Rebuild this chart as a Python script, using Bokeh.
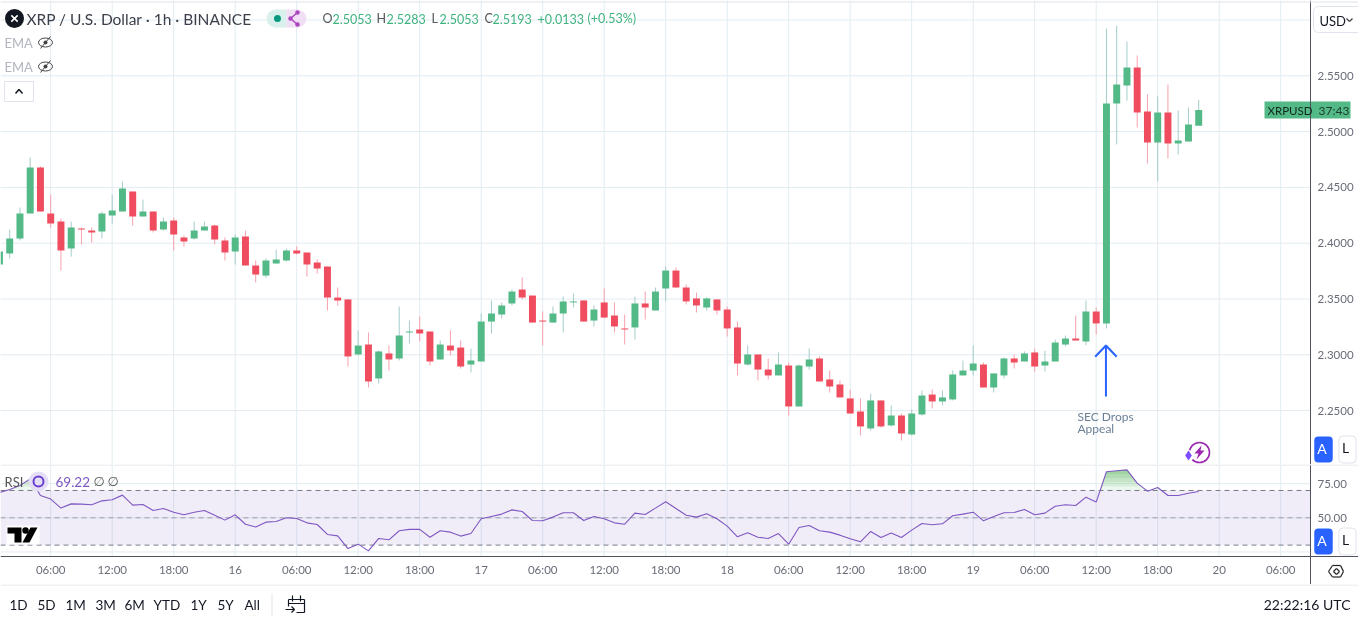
from bokeh.plotting import figure
from bokeh.layouts import column
from bokeh.models import (Range1d, LinearAxis, FixedTicker, Label, Arrow,
                          ColumnDataSource, NumeralTickFormatter)
from bokeh.embed import file_html
from bokeh.resources import INLINE
import numpy as np

hours = list(range(-5, 113))
opens = [2.3809,2.3907,2.4042,2.4266,2.4678,
 2.4266,2.4194,2.3952,2.4131,2.4113,2.4105,2.4248,2.4284,2.4463,2.4239,
 2.4284,2.4122,2.4203,2.4051,2.4042,2.4113,2.4158,2.4024,2.3925,2.4060,
 2.3800,2.3710,2.3818,2.3845,2.3934,2.3916,2.3827,2.3791,2.3513,2.3496,
 2.3003,2.3092,2.2788,2.3012,2.2967,2.3200,2.3227,2.3209,2.2958,2.3083,
 2.3065,2.2913,2.2940,2.3298,2.3361,2.3460,2.3585,2.3531,2.3307,2.3289,
 2.3370,2.3469,2.3487,2.3307,2.3469,2.3352,2.3236,2.3245,2.3460,2.3397,
 2.3594,2.3755,2.3603,2.3505,2.3424,2.3496,2.3406,2.3245,2.2913,2.3003,
 2.2868,2.2815,2.2904,2.2537,2.2895,2.2967,2.2779,2.2734,2.2609,2.2492,
 2.2340,2.2591,2.2367,2.2456,2.2286,2.2465,2.2644,2.2582,2.2600,2.2815,
 2.2859,2.2913,2.2707,2.2815,2.2967,2.2940,2.3021,2.2904,2.2940,2.3092,
 2.3146,2.3119,2.3388,2.3281,2.5252,2.5413,2.5575,2.5180,2.4903,2.5171,
 2.4894,2.4911,2.5053]
highs = [2.3925,2.4122,2.4320,2.4768,2.4687,
 2.4436,2.4221,2.4194,2.4140,2.4140,2.4284,2.4436,2.4553,2.4463,2.4391,
 2.4284,2.4230,2.4230,2.4069,2.4194,2.4194,2.4167,2.4051,2.4078,2.4113,
 2.3845,2.3863,2.3943,2.3952,2.3970,2.3916,2.3854,2.3791,2.3603,2.3496,
 2.3218,2.3200,2.3039,2.3083,2.3433,2.3307,2.3343,2.3209,2.3128,2.3218,
 2.3128,2.3056,2.3370,2.3487,2.3469,2.3585,2.3693,2.3531,2.3388,2.3433,
 2.3522,2.3549,2.3487,2.3442,2.3594,2.3469,2.3361,2.3522,2.3567,2.3603,
 2.3791,2.3782,2.3630,2.3558,2.3514,2.3496,2.3433,2.3299,2.3084,2.3003,
 2.2967,2.3021,2.2931,2.2913,2.3057,2.2985,2.2859,2.2770,2.2689,2.2609,
 2.2653,2.2591,2.2546,2.2474,2.2510,2.2680,2.2689,2.2680,2.2859,2.2949,
 2.3084,2.2931,2.2833,2.2976,2.3003,2.3030,2.3056,2.3038,2.3137,2.3173,
 2.3352,2.3487,2.3424,2.5924,2.5951,2.5808,2.5682,2.5333,2.5315,2.5422,
 2.5189,2.5216,2.5283]
lows = [2.3780,2.3863,2.4024,2.4266,2.4284,
 2.4140,2.3755,2.3880,2.3988,2.4006,2.4042,2.4176,2.4284,2.4158,2.4239,
 2.4096,2.4113,2.3934,2.3970,2.4033,2.4113,2.3988,2.3845,2.3809,2.3800,
 2.3648,2.3692,2.3818,2.3836,2.3898,2.3701,2.3728,2.3397,2.3441,2.2895,
 2.2994,2.2707,2.2743,2.2859,2.2949,2.3101,2.3119,2.2904,2.2958,2.2994,
 2.2877,2.2841,2.2940,2.3191,2.3325,2.3442,2.3496,2.3289,2.3083,2.3289,
 2.3200,2.3424,2.3298,2.3254,2.3325,2.3200,2.3092,2.3137,2.3316,2.3397,
 2.3478,2.3603,2.3451,2.3379,2.3397,2.3361,2.3164,2.2815,2.2904,2.2770,
 2.2779,2.2815,2.2456,2.2537,2.2868,2.2761,2.2662,2.2618,2.2474,2.2277,
 2.2322,2.2349,2.2358,2.2232,2.2277,2.2456,2.2519,2.2546,2.2591,2.2815,
 2.2815,2.2707,2.2662,2.2788,2.2877,2.2940,2.2850,2.2850,2.2940,2.3075,
 2.3128,2.3084,2.3182,2.3236,2.4885,2.5279,2.5037,2.4714,2.4553,2.4759,
 2.4795,2.4911,2.5053]
closes = [2.3925,2.4042,2.4266,2.4678,2.4284,
 2.4176,2.3934,2.4140,2.4122,2.4096,2.4266,2.4293,2.4490,2.4239,2.4284,
 2.4113,2.4194,2.4078,2.4015,2.4113,2.4149,2.4033,2.3916,2.4051,2.3800,
 2.3719,2.3845,2.3854,2.3934,2.3907,2.3809,2.3773,2.3513,2.3486,2.2985,
 2.3083,2.2761,2.3030,2.2958,2.3173,2.3209,2.3191,2.2940,2.3092,2.3039,
 2.2895,2.2949,2.3298,2.3370,2.3442,2.3567,2.3513,2.3289,2.3298,2.3370,
 2.3478,2.3478,2.3298,2.3406,2.3334,2.3254,2.3227,2.3460,2.3424,2.3567,
 2.3755,2.3603,2.3478,2.3442,2.3505,2.3397,2.3236,2.2922,2.3003,2.2868,
 2.2815,2.2913,2.2537,2.2904,2.2958,2.2761,2.2716,2.2618,2.2474,2.2358,
 2.2591,2.2358,2.2456,2.2295,2.2474,2.2635,2.2582,2.2618,2.2824,2.2859,
 2.2922,2.2707,2.2833,2.2967,2.2931,2.3012,2.2895,2.2940,2.3110,2.3146,
 2.3128,2.3388,2.3281,2.5252,2.5422,2.5575,2.5171,2.4903,2.5171,2.4894,
 2.4920,2.5064,2.5193]
rsi = [68.5,70.7,73.7,78.5,66.3,
 63.7,57.1,60.2,60.0,59.5,62.4,63.2,66.6,59.3,59.7,55.4,56.8,54.1,52.2,54.1,
 55.4,51.9,48.3,52.2,45.3,43.2,46.8,47.3,50.0,49.5,46.3,45.1,37.8,36.8,27.5,
 30.7,25.8,34.9,33.9,40.5,41.5,41.5,35.8,40.5,39.5,36.6,38.5,49.3,51.0,52.7,
 55.8,54.6,48.0,47.8,50.5,53.7,53.7,48.0,51.0,49.3,46.3,45.3,53.4,52.4,57.1,
 61.7,56.8,51.9,50.5,52.9,49.3,43.9,36.1,39.0,35.8,34.9,38.5,30.7,42.9,44.4,
 40.5,39.5,37.3,34.6,32.4,40.0,35.6,38.8,35.6,41.0,45.8,44.9,45.6,51.5,52.7,
 54.1,47.8,51.0,53.7,53.9,56.1,52.2,53.4,58.5,59.5,59.0,65.1,61.5,83.7,84.4,
 85.1,75.4,69.5,72.2,66.3,66.3,68.0,69.22]
time_ticks = list(range(0, 121, 6))
time_labels = ["06:00","12:00","18:00","16","06:00","12:00","18:00","17","06:00","12:00","18:00",
               "18","06:00","12:00","18:00","19","06:00","12:00","18:00","20","06:00"]
price_ticks = [2.25,2.30,2.35,2.40,2.45,2.50,2.55,2.60]
rsi_ticks = [25,50,75]
ranges_buttons = ["1D","5D","1M","3M","6M","YTD","1Y","5Y","All"]
arrow_x = [[102.95,102.95],[101.9,102.95,104.0]]
arrow_y = [[2.2626,2.3083],[2.2982,2.3083,2.2982]]

GRID="#e1ecf2"; AXIS="#50535e"; SEP="#e0e3eb"; UP="#53b987"; DOWN="#ef4d5f"; UPW="#a3cdca"; DOWNW="#f8a1ad"
TXT="#131722"; TICK="#6a6d78"; PURPLE="#7e57c2"; BLUE="#2962ff"; FONT="Lato"
def px(x): return (x-50.2)/10.25
def py(y): return 2.55-(y-75.3)/1116
def ry(y): return 50+(517.3-y)/1.366
H_MIN,H_MAX,H_AXIS=px(0),px(1358),px(1310)

def lab(fig,text,x,y,size,color,align="left",style="normal",font=FONT,level="overlay",**kw):
    fig.add_layout(Label(x=x,y=y,x_units="canvas",y_units="canvas",text=text,text_font=font,level=level,
        text_font_size=f"{size}px",text_color=color,text_align=align,text_baseline="middle",
        text_font_style=style,**kw))
def rule(fig,pts,color,width=1,level="overlay"):
    for (x0,y0),(x1,y1) in zip(pts[:-1],pts[1:]):
        fig.add_layout(Arrow(end=None,x_start=x0,y_start=y0,x_end=x1,y_end=y1,start_units="canvas",level=level,
            end_units="canvas",line_color=color,line_width=width))
def style_axis(a,standoff=7):
    a.major_tick_line_color=None; a.minor_tick_line_color=None; a.axis_line_color=AXIS
    a.major_tick_out=0; a.major_tick_in=0; a.minor_tick_out=0; a.minor_tick_in=0
    a.major_label_text_color=TICK; a.major_label_text_font=FONT; a.major_label_text_font_size="11.5px"
    a.major_label_standoff=standoff

# ---------------- price pane (frame spans the whole width; the scale sits at a fixed location)
p=figure(width=1358,height=464,output_backend="svg",toolbar_location=None,x_axis_type=None,y_axis_type=None,
         x_range=Range1d(H_MIN,H_MAX),y_range=Range1d(py(464),py(0)),min_border=0,outline_line_color=None,
         background_fill_color="white")
p.segment(x0=time_ticks,y0=[py(0)]*len(time_ticks),x1=time_ticks,y1=[py(464)]*len(time_ticks),line_color=GRID)
p.segment(x0=[H_MIN]*len(price_ticks),y0=price_ticks,x1=[H_AXIS]*len(price_ticks),y1=price_ticks,line_color=GRID)
ax=LinearAxis(ticker=FixedTicker(ticks=price_ticks),formatter=NumeralTickFormatter(format="0.0000"),
              major_label_overrides={2.6:""},fixed_location=H_AXIS)
style_axis(ax)
p.add_layout(ax,"right")

up=[i for i in range(len(hours)) if closes[i]>=opens[i]]
dn=[i for i in range(len(hours)) if closes[i]<opens[i]]
def src(idx):
    return ColumnDataSource(dict(x=[hours[i] for i in idx],h=[highs[i] for i in idx],l=[lows[i] for i in idx],
        t=[max(opens[i],closes[i]) for i in idx],b=[min(opens[i],closes[i]) for i in idx]))
for idx,c,w in ((up,UP,UPW),(dn,DOWN,DOWNW)):
    s=src(idx)
    p.segment("x","h","x","l",source=s,line_color=w,line_width=1)
    p.vbar(x="x",top="t",bottom="b",width=0.68,source=s,fill_color=c,line_color=None)
p.multi_line(arrow_x,arrow_y,line_color=BLUE,line_width=2)

# header
p.scatter([px(14)],[py(18)],size=19,marker="circle",fill_color=TXT,line_color=None)
p.scatter([px(14)],[py(18)],size=9,marker="x",line_color="white",line_width=1.6)
lab(p,"XRP / U.S. Dollar · 1h · BINANCE",26,18,15.5,"#3c3f4a")
p.quad(left=[px(275)],right=[px(286)],top=[py(9)],bottom=[py(27)],fill_color="#d9f0ec",line_color=None)
p.quad(left=[px(286)],right=[px(297)],top=[py(9)],bottom=[py(27)],fill_color="#f1dff6",line_color=None)
p.scatter([px(275)],[py(18)],size=18,fill_color="#d9f0ec",line_color=None)
p.scatter([px(297)],[py(18)],size=18,fill_color="#f1dff6",line_color=None)
p.scatter([px(277)],[py(18)],size=7,fill_color="#089981",line_color=None)
p.multi_line([[px(297),px(290),px(297)]],[[py(12),py(18),py(24)]],line_color="#ab47bc",line_width=1.5)
p.scatter([px(297),px(290),px(297)],[py(12),py(18),py(24)],size=4.5,fill_color="#ab47bc",line_color=None)
G2="#3fb37f"
for t,x,c in (("O",322,"#555"),("2.5053",332,G2),("H",376,"#555"),("2.5283",386,G2),("L",431,"#555"),
              ("2.5053",439,G2),("C",484,"#555"),("2.5193",492,G2),("+0.0133",537,G2),("(+0.53%)",587,G2)):
    lab(p,t,x,18,12.5,c)
for y in (42,66):
    lab(p,"EMA",4,y,13,"#b2b5be")
    p.ellipse([px(45)],[py(y)],width=14,height=9,width_units="screen",height_units="screen",fill_color=None,line_color="#444")
    p.scatter([px(45)],[py(y)],size=4,fill_color="#444",line_color=None)
    p.segment([px(40)],[py(y+6)],[px(50)],[py(y-6)],line_color="#444",line_width=1)
p.quad(left=[px(4)],right=[px(33)],top=[py(81)],bottom=[py(101)],fill_color="white",line_color=SEP)
p.line([px(15),px(18.5),px(22)],[py(93),py(89),py(93)],line_color=TXT,line_width=1.5)

# annotation
lab(p,"SEC Drops",1077,416,12,"#6a7f95")
lab(p,"Appeal",1077,428,12,"#6a7f95")
# spark icon
p.scatter([px(1199)],[py(452)],size=20,fill_color="white",line_color="#9c27b0",line_width=1.6)
p.patch([px(1201),px(1194),px(1198),px(1196),px(1204),px(1200)],[py(445),py(453),py(453),py(459),py(450),py(450)],fill_color="#9c27b0",line_color=None)
p.scatter([px(1188)],[py(455)],size=11,fill_color="white",line_color=None)
p.scatter([px(1188)],[py(455)],size=10,marker="diamond",fill_color="#7c4dff",line_color=None)

# right side items
rule(p,[(0,1.5),(1358,1.5)],SEP)
rule(p,[(1264,109.5),(1350,109.5)],UP,17)
rule(p,[(1310,101),(1310,118)],AXIS)
lab(p,"XRPUSD",1267,110,11.5,"#10291c")
lab(p,"37:43",1318,110,12,"#1e3d2d")
lab(p,"USD",1313,19,13,TXT,background_fill_color="white",border_line_color=SEP,border_radius=5,padding=(6,20,6,4))
rule(p,[(1346,18),(1349,21),(1352,18)],"#444",1.2)
lab(p,"A",1323,449,14,"white",align="center",background_fill_color=BLUE,border_radius=4,padding=(3,6,3,6))
lab(p,"L",1347,449,14,TXT,align="center",background_fill_color="white",border_line_color=SEP,border_radius=4,padding=(3,7,3,7))

# ---------------- RSI pane
top=464
r=figure(width=1358,height=120,output_backend="svg",toolbar_location=None,x_range=Range1d(H_MIN,H_MAX),
         y_range=Range1d(ry(584),ry(464)),x_axis_type=None,y_axis_type=None,min_border=0,outline_line_color=None)
r.segment(x0=time_ticks,y0=[ry(464)]*len(time_ticks),x1=time_ticks,y1=[ry(556)]*len(time_ticks),line_color=GRID)
r.segment(x0=[H_MIN]*len(rsi_ticks),y0=rsi_ticks,x1=[H_AXIS]*len(rsi_ticks),y1=rsi_ticks,line_color=GRID)
ax2=LinearAxis(ticker=FixedTicker(ticks=rsi_ticks),formatter=NumeralTickFormatter(format="0.00"),
               major_label_overrides={25:""},fixed_location=H_AXIS)
style_axis(ax2)
r.add_layout(ax2,"right")
ax3=LinearAxis(ticker=FixedTicker(ticks=time_ticks),major_label_overrides=dict(zip(time_ticks,time_labels)),
               fixed_location=ry(556))
style_axis(ax3,6)
r.add_layout(ax3,"below")
r.quad(left=[H_MIN],right=[H_AXIS],top=[70],bottom=[30],fill_color=PURPLE,fill_alpha=0.11,line_color=None)
fx=np.linspace(hours[0],hours[-1],2000); fy=np.interp(fx,hours,rsi)
for level,a in ((70,0.10),(73,0.12),(76,0.14),(79,0.16),(82,0.18)):
    r.varea(fx,np.full_like(fx,level),np.maximum(fy,level),fill_color="#4caf50",fill_alpha=a)
for v,a in ((70,1),(50,0.65),(30,1)):
    r.segment(x0=[H_MIN],y0=[v],x1=[H_AXIS],y1=[v],line_color="#787b86",line_width=1,line_dash="5 4",line_alpha=a)
r.line(hours,rsi,line_color=PURPLE,line_width=1.1)
# logo
r.quad(left=[px(6)],right=[px(39)],top=[ry(525)],bottom=[ry(544)],fill_color="white",line_color=None)
r.patch([px(7),px(21),px(21),px(14),px(14),px(7)],[ry(527),ry(527),ry(542),ry(542),ry(533),ry(533)],fill_color="black",line_color=None)
r.scatter([px(25)],[ry(530)],size=6.5,fill_color="black",line_color=None)
r.patch([px(30),px(37),px(29),px(22)],[ry(527),ry(527),ry(542),ry(542)],fill_color="black",line_color=None)
# legend
r.scatter([px(38)],[ry(481)],size=20,fill_color="#e4def6",line_color=None)
r.scatter([px(38)],[ry(481)],size=10,fill_color=None,line_color="#6a3fd0",line_width=2)
lab(r,"RSI",4,481-top,13,"#555")
lab(r,"69.22",55,481-top,13.5,PURPLE)
lab(r,"∅",93,481-top,13,"#555",font="DejaVu Sans")
lab(r,"∅",107,481-top,13,"#555",font="DejaVu Sans")
rule(r,[(0,0.5),(1358,0.5)],SEP)
lab(r,"A",1323,541-top,14,"white",align="center",background_fill_color=BLUE,border_radius=4,padding=(3,6,3,6))
lab(r,"L",1347,541-top,14,TXT,align="center",background_fill_color="white",border_line_color=SEP,border_radius=4,padding=(3,7,3,7))
H=[(1328,107),(1332,101),(1340,101),(1343,107),(1340,112.5),(1332,112.5),(1328,107)]
rule(r,H,"#222",1.2)
rule(r,[(1333,107),(1336,104),(1339,107),(1336,110),(1333,107)],"#222",1.1)

# ---------------- bottom bar (no glyphs: text and rules only)
b=figure(width=1358,height=38,output_backend="svg",toolbar_location=None,x_range=Range1d(0,1358),y_range=Range1d(38,0),
         x_axis_type=None,y_axis_type=None,min_border=0,outline_line_color=None)
rule(b,[(0,0.5),(1358,0.5)],SEP)
bx=[9,37,65,95,124,153,190,217,244]
for t,x in zip(ranges_buttons,bx):
    lab(b,t,x,20,13.5,TXT)
rule(b,[(271.5,9),(271.5,31)],SEP)
lab(b,"22:22:16 UTC",1350,20,14,TXT,align="right")
for seg in ([(288,22),(288,15),(304,15),(304,28),(296,28)],[(292,11),(292,17)],[(300,11),(300,17)],
            [(288,19),(304,19)],[(285,25),(294,25)],[(291,22),(294,25),(291,28)]):
    rule(b,seg,TXT,1.2)

page=column(p,r,b,spacing=0,styles={"position":"fixed","left":"0px","top":"0px"})
open("out.html","w").write(file_html(page,INLINE))
